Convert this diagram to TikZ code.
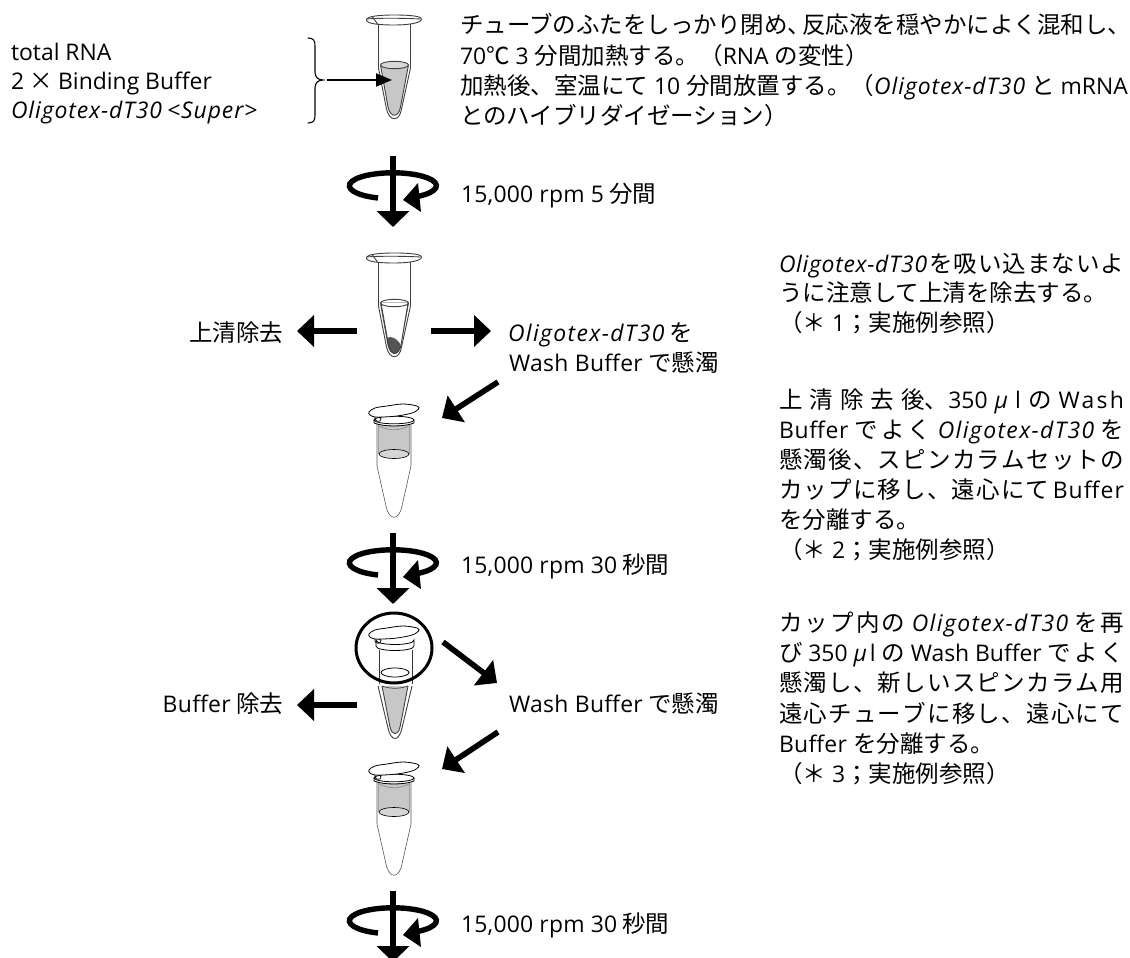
\documentclass[tikz,border=0pt]{standalone}
\usepackage{fontspec}
\usetikzlibrary{arrows.meta,shapes.geometric}
\setmainfont{Noto Sans CJK JP}
\newfontfamily\latinface[Scale=0.975]{Open Sans}
\newcommand{\en}[1]{{\latinface #1}}
\newcommand{\tr}[2]{{\latinface\addfontfeature{LetterSpace=#1}#2}}
\newcommand{\olig}[1][4]{{\latinface\itshape\addfontfeature{LetterSpace=#1}Oligotex-dT30}}
\newcommand{\mic}{{\latinface\itshape\addfontfeature{LetterSpace=6}μ}}
\newcommand{\gp}{\hspace{6pt}}
\definecolor{liquid}{gray}{0.78}
\definecolor{pellet}{gray}{0.33}
\definecolor{wall}{gray}{0.25}
\tikzset{
  txt/.style={anchor=base west,inner sep=0pt,outer sep=0pt,font=\fontsize{23.5}{30}\selectfont},
  txtr/.style={txt,anchor=base east},
  fat/.style={line width=5.6pt,-{Triangle[length=17pt,width=31pt]},shorten >=0pt},
  thinarrow/.style={line width=2pt,-{Triangle[length=16pt,width=13pt]}},
  tubeline/.style={draw=wall,line width=0.9pt},
  tubeink/.style={draw=black,line width=0.8pt},
  lidshape/.pic={
    \draw[tubeink,fill=white] plot[smooth cycle,tension=0.6] coordinates {(-25,8) (-19,4) (-7,2) (9,0) (23,2) (24.5,5) (18,9) (3,12) (-11,13) (-19,13) (-24,11)};
    \draw[tubeink,line width=0.7pt] (-19,13) .. controls (-20,16) and (-17,18) .. (-14,17) .. controls (-12,16) and (-13,13) .. (-15,13);
  },
  spin/.pic={
    \coordinate (-top) at (0,0);
    \coordinate (-tip) at (0,71);
    \draw[line width=5.4pt] (-15,42) arc[start angle=110,end angle=425,x radius=43.5,y radius=13];
    \fill (10,44) -- (25,27) -- (28,56) -- cycle;
    \draw[line width=5.6pt,-{Triangle[length=16pt,width=32pt]}] (-top) -- (-tip);
  },
  lidtube/.pic={
    % body with outer and inner wall
    \draw[tubeline,fill=white] (-16,9) -- (-16,53) -- (-8,94) .. controls (-5,107) and (5,107) .. (7,94) -- (16,53) -- (16,9);
    \draw[tubeline,fill=liquid] (-14,50) -- (-6.5,92) .. controls (-4,103) and (4,103) .. (6,92) -- (14,50) -- cycle;
    % cap
    \draw[tubeline,fill=white] (-28,5) .. controls (-28,1) and (-14,0) .. (0,0) .. controls (14,0) and (27,1) .. (27,4) .. controls (27,8) and (14,10) .. (0,10) .. controls (-14,10) and (-28,9) .. cycle;
    \draw[tubeline] (-28,4) .. controls (-18,3) and (8,3) .. (26,4);
    \draw[tubeline] (-22,2) -- (-17,9);
  },
  spincol/.pic={
    \fill[liquid] (-15,21) rectangle (15,50);
    \fill[liquid] (0,50) ellipse[x radius=15,y radius=4.5];
    \draw[draw=wall!60,line width=0.7pt] (-15,22) .. controls (-5,27) and (5,27) .. (15,22);
    \draw[wall!50,line width=1.6pt] (-15.5,20) -- (-15.5,50);
    \draw[wall!50,line width=1.6pt] (15.5,20) -- (15.5,50);
    \draw[tubeink,line width=0.6pt,fill=white,fill opacity=0.25] (0,50) ellipse[x radius=15,y radius=4.5];
    \draw[draw=black!65,line width=0.6pt] (-17,20) -- (-17,62) -- (-8,102) .. controls (-5,117) and (5,117) .. (8,102) -- (17,62) -- (17,20);
    \draw[tubeink,fill=white] (0,16) ellipse[x radius=20,y radius=3.8];
    \draw[tubeink] (-20,16) -- (-20,19) .. controls (-10,23) and (10,23) .. (20,19) -- (20,16);
    \pic at (0,0) {lidshape};
  },
}
\begin{document}
\begin{tikzpicture}[x=1pt,y=-1pt]
\path[use as bounding box,fill=white] (0,0) rectangle (1130,958);
\clip (0,0) rectangle (1130,958);

% first tube, filled with reaction mix
\pic (t1) at (394.5,15) {lidtube};
\draw[tubeline,fill=liquid!70] (394.5,65) ellipse[x radius=14,y radius=3.7];
\coordinate (t1in) at (392,80);
\node[txt] (leftA) at (11,60) {\en{total RNA}};
\node[txt] (leftB) at (11,89) {\en{2} × \en{Binding Buffer}};
\node[txt] (leftC) at (11,118) {\olig{} {\latinface\itshape\addfontfeature{LetterSpace=4}<Super>}};
\coordinate (bracetip) at (327,80);
\draw[line width=1.1pt,line cap=round] (308,38) .. controls (314,38) and (315,41) .. (315,46) -- (315,72) .. controls (315,77) and (318,80) .. (323,80) .. controls (318,80) and (315,83) .. (315,88) -- (315,115) .. controls (315,120) and (314,123) .. (308,123);
\draw[thinarrow] (bracetip) -- (t1in);
\node[txt] (p1a) at (460,34) {チューブのふたをしっかり閉め、\hspace{-9pt}反応液を穏やかによく混和し、};
\node[txt] (p1b) at (460,64) {\en{70}℃\gp\en{3}\gp 分間加熱する。（\en{RNA}\gp の変性）};
\node[txt] (p1c) at (460,94) {加熱後、室温にて\gp\en{10}\gp 分間放置する。（\olig{}\gp と\gp\en{mRNA}};
\node[txt] (p1d) at (460,124) {とのハイブリダイゼーション）};

% first spin
\pic (s1) at (393,156) {spin};
\node[txt] (r1) at (461,202) {\tr{1}{15,000 rpm 5} 分間};

% second tube with the pellet, supernatant removed
\pic (t2) at (394.5,253) {lidtube};
\fill[white] (381,303) -- (408,303) -- (401,345) .. controls (399,356) and (391,356) .. (388.5,345) -- cycle;
\fill[pellet] (390,337) .. controls (395,337) and (400,342) .. (401,346) .. controls (400,350) and (397,354) .. (394,354) .. controls (391,353) and (388,345) .. (387,341) .. controls (387,338) and (388,337) .. (390,337) -- cycle;
\draw[tubeline] (381,303) -- (388.5,345) .. controls (391,356) and (399,356) .. (401,345) -- (408,303);
\draw[tubeline] (394.5,303) ellipse[x radius=14,y radius=3.7];
\coordinate (c2l) at (357,331);
\coordinate (c2lend) at (297,331);
\coordinate (c2r) at (431,331);
\coordinate (c2rend) at (491,331);
\draw[fat] (c2l) -- (c2lend);
\draw[fat] (c2r) -- (c2rend);
\node[txtr] (rm1) at (283,341) {上清除去};
\node[txt] (o1) at (508,341) {\olig[6]{} を};
\node[txt] (o2) at (509,371) {\tr{1.5}{Wash Buffer} で懸濁};
\coordinate (d1a) at (498,382);
\coordinate (d1b) at (442,418);
\draw[fat] (d1a) -- (d1b);

% spin column with wash buffer
\pic (t3) at (394,404) {spincol};
\pic (s2) at (393,533) {spin};
\node[txt] (r2) at (461,573) {\tr{1}{15,000 rpm 30} 秒間};

% column in the collection tube; the ring marks the cup
\draw[tubeline,fill=white] (378,686) -- (388,728) .. controls (391,742) and (399,742) .. (402,728) -- (412,686);
\fill[liquid] (382,686) -- (408,686) -- (400,727) .. controls (398,736) and (392,736) .. (390,727) -- cycle;
\draw[tubeline] (382,686) -- (390,727) .. controls (392,736) and (398,736) .. (400,727) -- (408,686);
\draw[tubeline,line width=0.7pt] (382,686) .. controls (390,689) and (400,689) .. (408,686);
\draw[black!80,line width=0.9pt] (379,650) -- (379,684);
\draw[black!80,line width=0.9pt] (412,650) -- (412,684);
\draw[tubeink,fill=white] (395,672.5) ellipse[x radius=14,y radius=4.5];
\draw[tubeink,fill=white] (376,640) .. controls (376,646) and (414,646) .. (414,640) -- (414,646) .. controls (414,652) and (376,652) .. (376,646) -- cycle;
\pic at (394,626) {lidshape};
\node[draw,line width=3pt,ellipse,minimum width=76pt,minimum height=70pt,inner sep=0pt] (ring) at (394,648) {};
\coordinate (c4l) at (357,705);
\coordinate (c4lend) at (297,705);
\draw[fat] (c4l) -- (c4lend);
\node[txtr] (rm2) at (283,712) {\tr{1.5}{Buffer} 除去};
\node[txt] (w2) at (509,712) {\tr{1.5}{Wash Buffer} で懸濁};
\coordinate (d2a) at (443,642);
\coordinate (d2b) at (497,683);
\draw[fat] (d2a) -- (d2b);
\coordinate (d3a) at (498,732);
\coordinate (d3b) at (442,769);
\draw[fat] (d3a) -- (d3b);

% last column and spin
\pic (t5) at (394,762) {spincol};
\pic (s3) at (393,891) {spin};
\node[txt] (r3) at (461,932) {\tr{1}{15,000 rpm 30} 秒間};

% notes in the right column
\newcommand{\fitline}[1]{\makebox[345pt][s]{#1}}
\node[txt] (n1) at (779,272) {\fitline{\olig[3]{}\hfil\hfil を\hfil 吸\hfil い\hfil 込\hfil ま\hfil な\hfil い\hfil よ}};
\node[txt] (n2) at (779,301) {うに注意して上清を除去する。};
\node[txt] (n3) at (779,331) {（＊\gp\en{1}；実施例参照）};
\node[txt] (n4) at (779,408) {\fitline{上\hfil 清\hfil 除\hfil 去\hfil 後、\en{350}\hfil \mic\hfil \en{l}\hfil の\hfil \tr{10}{Wash}}};
\node[txt] (n5) at (779,438) {\fitline{\tr{3}{Buffer}\hfil\hfil で\hfil よ\hfil く\hfil\hfil \olig[6]{}\hfil\hfil を}};
\node[txt] (n6) at (779,468) {\fitline{懸\hfil 濁\hfil 後\hfil 、\hfil ス\hfil ピ\hfil ン\hfil カ\hfil ラ\hfil ム\hfil セ\hfil ッ\hfil ト\hfil の}};
\node[txt] (n7) at (779,498) {\fitline{カ\hfil ッ\hfil プ\hfil に\hfil 移\hfil し\hfil 、\hfil 遠\hfil 心\hfil に\hfil て\hfil\hfil\hfil \tr{5}{Buffer}}};
\node[txt] (n8) at (779,528) {を分離する。};
\node[txt] (n9) at (779,558) {（＊\gp\en{2}；実施例参照）};
\node[txt] (n10) at (779,631) {\fitline{カ\hfil ッ\hfil プ\hfil 内\hfil の\hfil\hfil\hfil \olig[6]{}\hfil\hfil\hfil を\hfil 再}};
\node[txt] (n11) at (779,661) {\fitline{び\hfil\hfil \en{350}\hfil\hfil \mic\hfil \en{l}\hfil\hfil の\hfil\hfil \en{Wash}\hfil\hfil \en{Buffer}\hfil\hfil で\hfil よ\hfil く}};
\node[txt] (n12) at (779,691) {\fitline{懸\hfil 濁\hfil し\hfil 、\hfil 新\hfil し\hfil い\hfil ス\hfil ピ\hfil ン\hfil カ\hfil ラ\hfil ム\hfil 用}};
\node[txt] (n13) at (779,722) {\fitline{遠\hfil 心\hfil チ\hfil ュ\hfil ー\hfil ブ\hfil に\hfil 移\hfil し\hfil 、\hfil 遠\hfil 心\hfil に\hfil て}};
\node[txt] (n14) at (779,752) {\tr{1.5}{Buffer}\gp を分離する。};
\node[txt] (n15) at (779,782) {（＊\gp\en{3}；実施例参照）};
\end{tikzpicture}
\end{document}
